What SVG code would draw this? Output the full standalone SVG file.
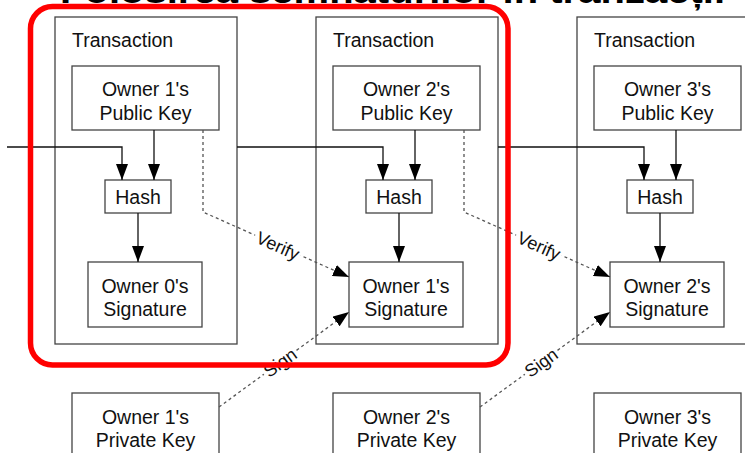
<svg xmlns="http://www.w3.org/2000/svg" width="745" height="453" viewBox="0 0 745 453">
  <defs>
    <style>
      .box { fill: #ffffff; stroke: #444444; stroke-width: 1.3; }
      .tx { fill: none; stroke: #444444; stroke-width: 1.3; }
      .t { font-family: "Liberation Sans", Arial, sans-serif; font-size: 19.5px; fill: #111111; }
      .c { text-anchor: middle; }
      .lbl { font-family: "Liberation Sans", Arial, sans-serif; font-size: 18px; fill: #111111; text-anchor: middle; }
      .solid { fill: none; stroke: #111111; stroke-width: 1.3; }
      .dot { fill: none; stroke: #555555; stroke-width: 1.3; stroke-dasharray: 3 3; }
      .title { font-family: "Liberation Sans", Arial, sans-serif; font-size: 34px; font-weight: bold; fill: #000000; }
    </style>
    <marker id="arrow" viewBox="0 0 16 12" refX="16" refY="6" markerWidth="16" markerHeight="12" orient="auto" markerUnits="userSpaceOnUse">
      <path d="M0,0 L16,6 L0,12 z" fill="#000000"/>
    </marker>
  </defs>

  <rect width="745" height="453" fill="#ffffff"/>

  <!-- heading, mostly above the top edge -->
  <text class="title" x="60" y="3" textLength="665" lengthAdjust="spacingAndGlyphs">Folosirea semnăturilor în tranzacții</text>

  <!-- transaction 1 -->
  <g id="tx1">
    <rect class="tx" x="55" y="17" width="182" height="327"/>
    <text class="t" x="72" y="47">Transaction</text>
    <g id="pub1">
      <rect class="box" x="72" y="66" width="147" height="64"/>
      <text class="t c" x="145.5" y="96">Owner 1's</text>
      <text class="t c" x="145.5" y="120">Public Key</text>
    </g>
    <g id="hash1">
      <rect class="box" x="105" y="180" width="66" height="33"/>
      <text class="t c" x="138" y="204">Hash</text>
    </g>
    <g id="sig0">
      <rect class="box" x="88" y="262" width="114" height="65"/>
      <text class="t c" x="145" y="293">Owner 0's</text>
      <text class="t c" x="145" y="316">Signature</text>
    </g>
  </g>

  <!-- transaction 2 -->
  <g id="tx2">
    <rect class="tx" x="316" y="17" width="182" height="327"/>
    <text class="t" x="333" y="47">Transaction</text>
    <g id="pub2">
      <rect class="box" x="333" y="66" width="147" height="64"/>
      <text class="t c" x="406.5" y="96">Owner 2's</text>
      <text class="t c" x="406.5" y="120">Public Key</text>
    </g>
    <g id="hash2">
      <rect class="box" x="366" y="180" width="66" height="33"/>
      <text class="t c" x="399" y="204">Hash</text>
    </g>
    <g id="sig1">
      <rect class="box" x="349" y="262" width="114" height="65"/>
      <text class="t c" x="406" y="293">Owner 1's</text>
      <text class="t c" x="406" y="316">Signature</text>
    </g>
  </g>

  <!-- transaction 3 -->
  <g id="tx3">
    <rect class="tx" x="577" y="17" width="182" height="327"/>
    <text class="t" x="594" y="47">Transaction</text>
    <g id="pub3">
      <rect class="box" x="594" y="66" width="147" height="64"/>
      <text class="t c" x="667.5" y="96">Owner 3's</text>
      <text class="t c" x="667.5" y="120">Public Key</text>
    </g>
    <g id="hash3">
      <rect class="box" x="627" y="180" width="66" height="33"/>
      <text class="t c" x="660" y="204">Hash</text>
    </g>
    <g id="sig2">
      <rect class="box" x="610" y="262" width="114" height="65"/>
      <text class="t c" x="667" y="293">Owner 2's</text>
      <text class="t c" x="667" y="316">Signature</text>
    </g>
  </g>

  <!-- private keys -->
  <g id="priv1">
    <rect class="box" x="72" y="393" width="147" height="72"/>
    <text class="t c" x="145.5" y="424">Owner 1's</text>
    <text class="t c" x="145.5" y="447">Private Key</text>
  </g>
  <g id="priv2">
    <rect class="box" x="333" y="393" width="147" height="72"/>
    <text class="t c" x="406.5" y="424">Owner 2's</text>
    <text class="t c" x="406.5" y="447">Private Key</text>
  </g>
  <g id="priv3">
    <rect class="box" x="594" y="393" width="147" height="72"/>
    <text class="t c" x="667.5" y="424">Owner 3's</text>
    <text class="t c" x="667.5" y="447">Private Key</text>
  </g>

  <!-- connectors -->
  <g id="connectors">
    <path class="solid" d="M7,147 H122 V180" marker-end="url(#arrow)"/>
    <path class="solid" d="M154,130 V180" marker-end="url(#arrow)"/>
    <path class="solid" d="M138,213 V262" marker-end="url(#arrow)"/>

    <path class="solid" d="M237,147 H383 V180" marker-end="url(#arrow)"/>
    <path class="solid" d="M415,130 V180" marker-end="url(#arrow)"/>
    <path class="solid" d="M399,213 V262" marker-end="url(#arrow)"/>

    <path class="solid" d="M498,147 H644 V180" marker-end="url(#arrow)"/>
    <path class="solid" d="M676,130 V180" marker-end="url(#arrow)"/>
    <path class="solid" d="M660,213 V262" marker-end="url(#arrow)"/>

    <!-- verify links -->
    <path class="dot" d="M203,130 V212 L349,277" marker-end="url(#arrow)"/>
    <path class="dot" d="M464,130 V212 L610,277" marker-end="url(#arrow)"/>
    <!-- sign links -->
    <path class="dot" d="M219,407 L349,312" marker-end="url(#arrow)"/>
    <path class="dot" d="M480,407 L610,312" marker-end="url(#arrow)"/>

    <g transform="translate(278,245.5) rotate(24)">
      <rect x="-25" y="-9" width="50" height="18" fill="#ffffff"/>
      <text class="lbl" x="0" y="6.5">Verify</text>
    </g>
    <g transform="translate(539,245.5) rotate(24)">
      <rect x="-25" y="-9" width="50" height="18" fill="#ffffff"/>
      <text class="lbl" x="0" y="6.5">Verify</text>
    </g>
    <g transform="translate(280,362.5) rotate(-36)">
      <rect x="-20" y="-9" width="40" height="18" fill="#ffffff"/>
      <text class="lbl" x="0" y="6.5">Sign</text>
    </g>
    <g transform="translate(541,362.5) rotate(-36)">
      <rect x="-20" y="-9" width="40" height="18" fill="#ffffff"/>
      <text class="lbl" x="0" y="6.5">Sign</text>
    </g>
  </g>

  <!-- highlight frame -->
  <rect x="30.5" y="6.5" width="477.5" height="358.5" rx="22" ry="22" fill="none" stroke="#ff0000" stroke-width="5.5"/>
</svg>
